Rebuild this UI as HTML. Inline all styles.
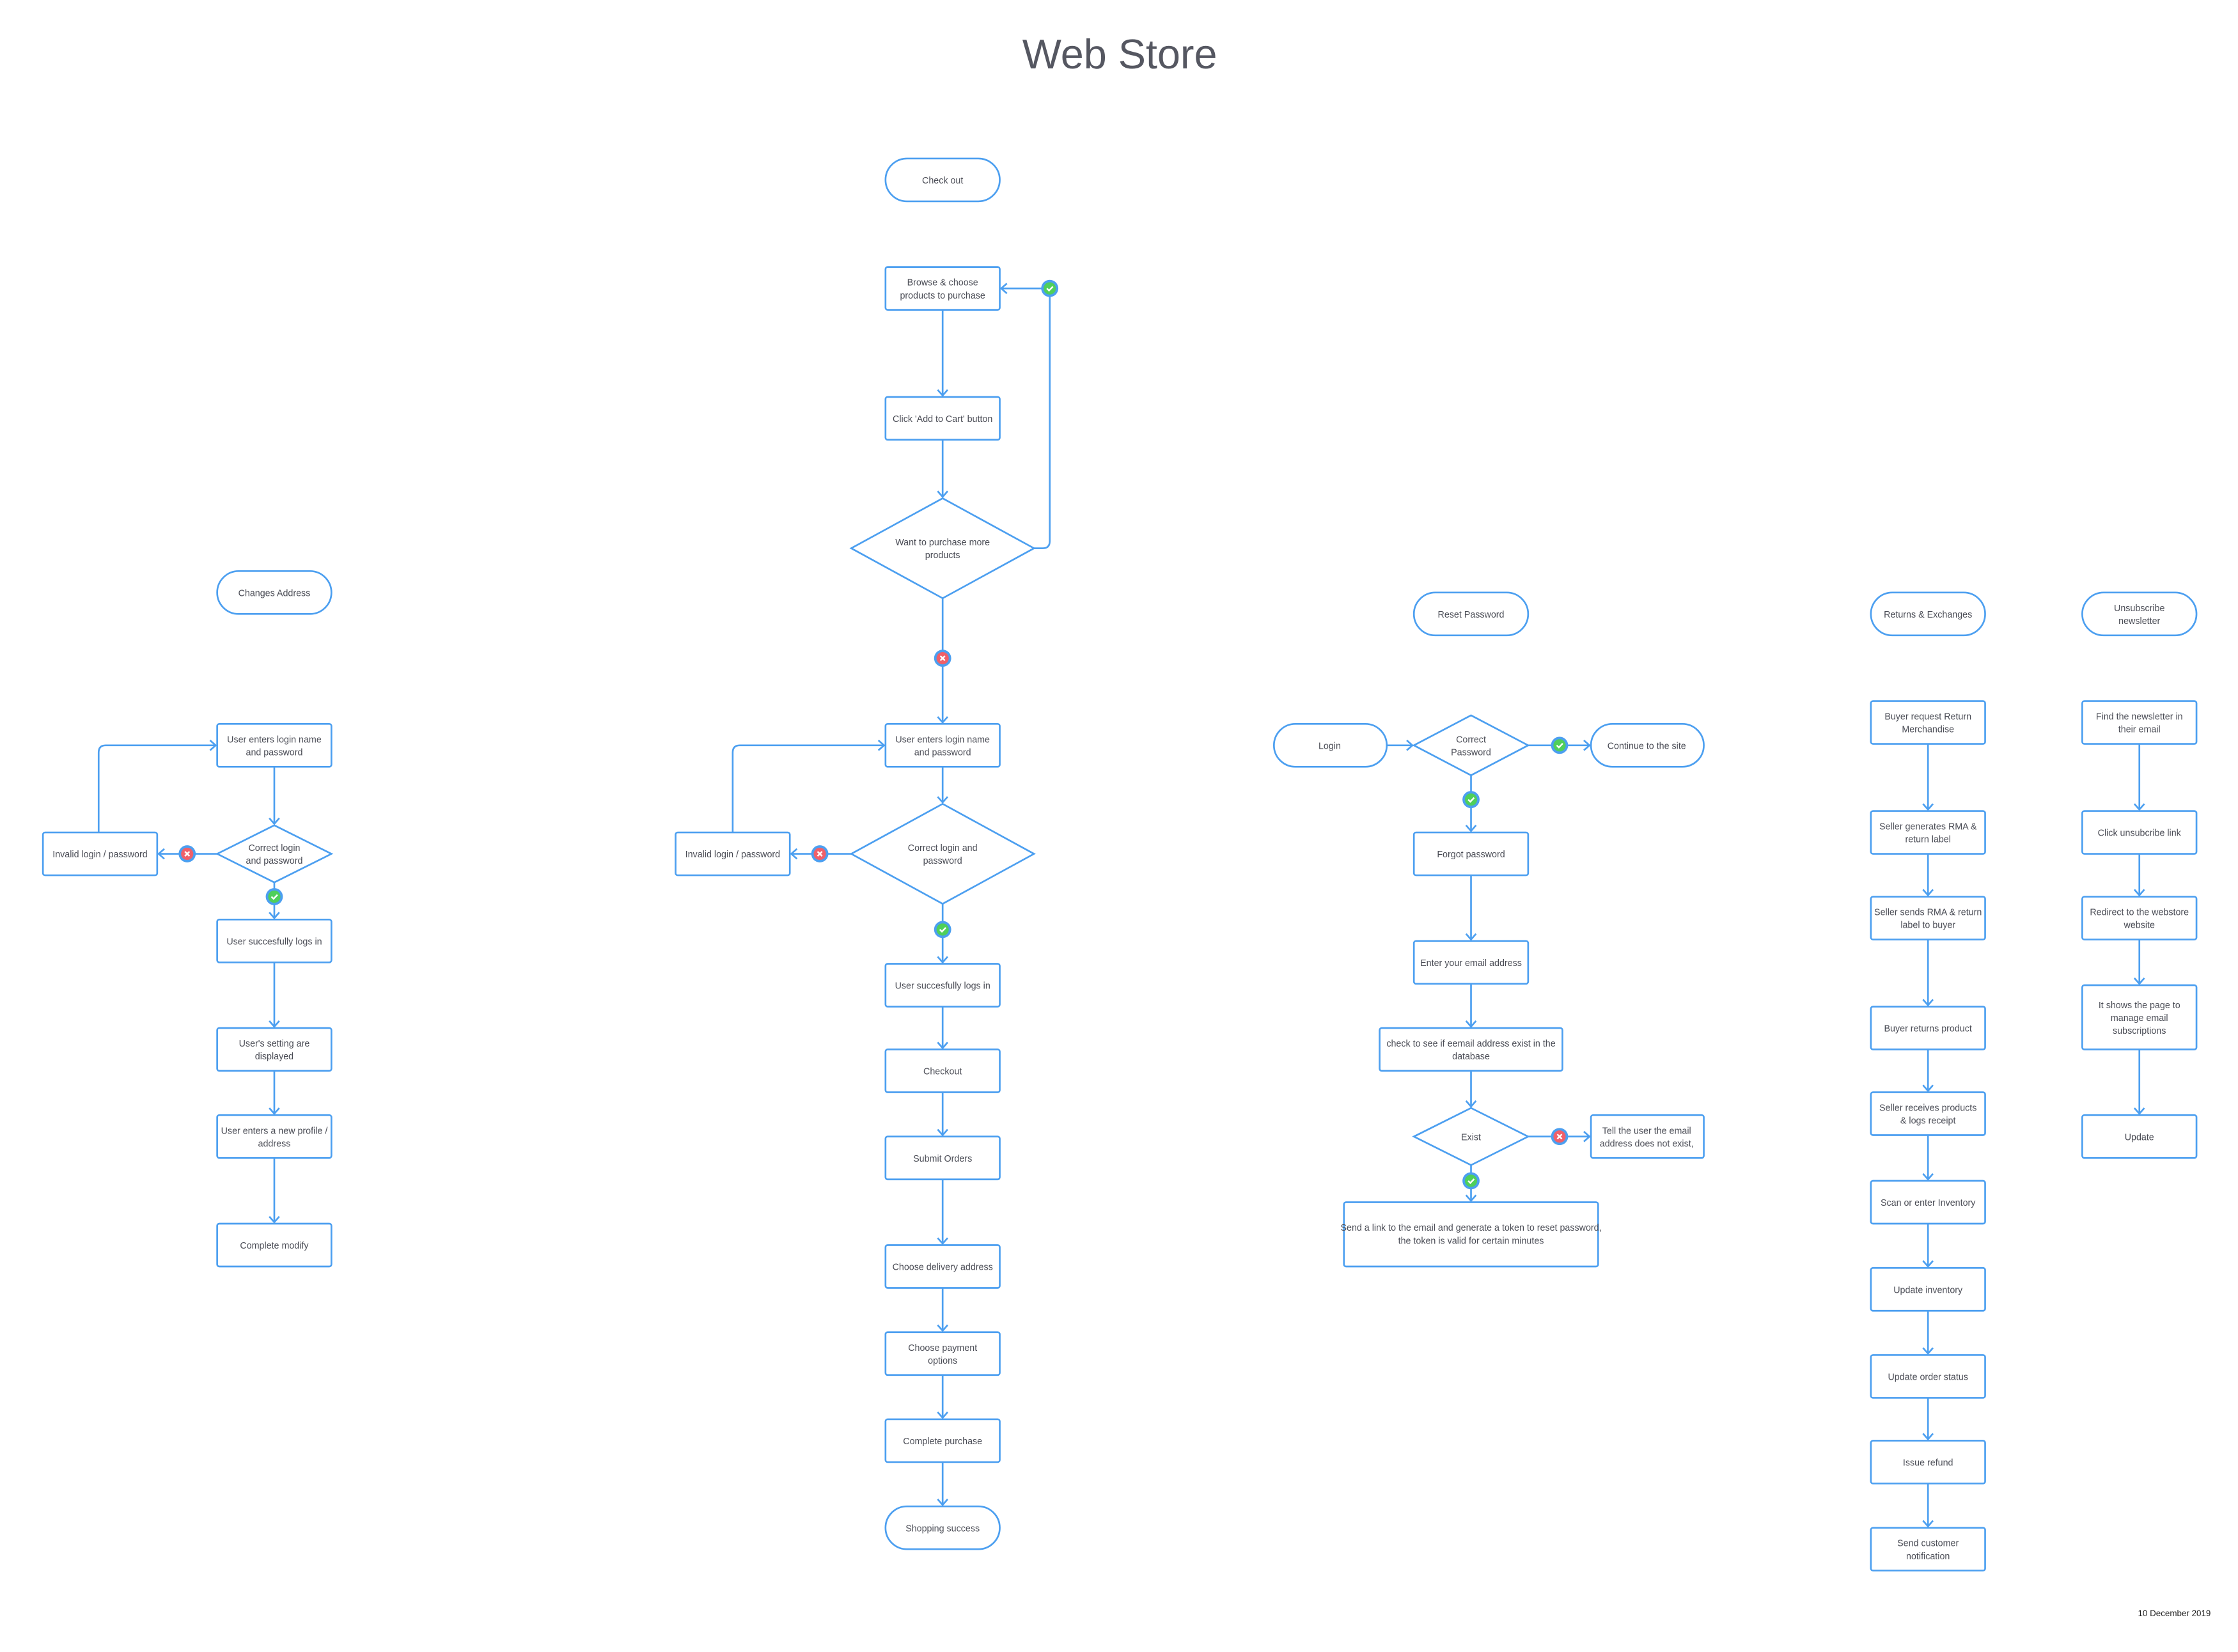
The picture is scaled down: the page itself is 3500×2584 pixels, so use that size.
<!DOCTYPE html>
<html><head><meta charset="utf-8"><style>
html,body{margin:0;padding:0;background:#fff;}
svg{display:block;}
text{font-family:"Liberation Sans",sans-serif;fill:#4a4c55;font-size:6.4px;text-anchor:middle;}
.s{fill:#fff;stroke:#4c9ff0;stroke-width:1.2;}
.l{fill:none;stroke:#4c9ff0;stroke-width:1.2;marker-end:url(#a);}
</style></head><body>
<svg width="3500" height="2584" viewBox="0 0 1567 1157" xmlns="http://www.w3.org/2000/svg">
<defs>
<marker id="a" markerUnits="userSpaceOnUse" markerWidth="12" markerHeight="12" refX="0" refY="0" viewBox="-6 -6 12 12" orient="auto"><path d="M-4,-3.5 L0,0 L-4,3.5" fill="none" stroke="#4c9ff0" stroke-width="1.2"/></marker>
<g id="ok"><circle r="6" fill="#4c9ff0"/><circle r="4.3" fill="#4fcf5a"/><path d="M-2,0 L-0.5,1.5 L2.2,-1.3" stroke="#fff" stroke-width="1.1" fill="none"/></g>
<g id="no"><circle r="6" fill="#4c9ff0"/><circle r="4.3" fill="#f0606a"/><path d="M-1.6,-1.6 L1.6,1.6 M1.6,-1.6 L-1.6,1.6" stroke="#fff" stroke-width="1.1"/></g>
</defs>
<rect width="1567" height="1157" fill="#fff"/>
<text x="784" y="48" style="font-size:29px;fill:#555761">Web Store</text>
<text x="1548" y="1132" style="font-size:6px;text-anchor:end;fill:#222">10 December 2019</text>

<!-- Column 1 -->
<rect class="s" x="152" y="400" width="80" height="30" rx="15"/><text x="192" y="417.5">Changes Address</text>
<rect class="s" x="152" y="507" width="80" height="30" rx="1.5"/><text x="192" y="520">User enters login name</text><text x="192" y="529">and password</text>
<polygon class="s" points="152,598 192,578 232,598 192,618"/><text x="192" y="596">Correct login</text><text x="192" y="605">and password</text>
<rect class="s" x="30" y="583" width="80" height="30" rx="1.5"/><text x="70" y="600.5">Invalid login / password</text>
<rect class="s" x="152" y="644" width="80" height="30" rx="1.5"/><text x="192" y="661.5">User succesfully logs in</text>
<rect class="s" x="152" y="720" width="80" height="30" rx="1.5"/><text x="192" y="733">User's setting are</text><text x="192" y="742">displayed</text>
<rect class="s" x="152" y="781" width="80" height="30" rx="1.5"/><text x="192" y="794">User enters a new profile /</text><text x="192" y="803">address</text>
<rect class="s" x="152" y="857" width="80" height="30" rx="1.5"/><text x="192" y="874.5">Complete modify</text>
<path class="l" d="M192,537 V577"/>
<path class="l" d="M152,598 H111"/>
<path class="l" d="M69,583 V527 Q69,522 74,522 H151"/>
<path class="l" d="M192,618 V643"/>
<path class="l" d="M192,674 V719"/>
<path class="l" d="M192,750 V780"/>
<path class="l" d="M192,811 V856"/>
<use href="#no" x="131" y="598"/><use href="#ok" x="192" y="628"/>

<!-- Column 2 -->
<rect class="s" x="620" y="111" width="80" height="30" rx="15"/><text x="660" y="128.5">Check out</text>
<rect class="s" x="620" y="187" width="80" height="30" rx="1.5"/><text x="660" y="200">Browse &amp; choose</text><text x="660" y="209">products to purchase</text>
<rect class="s" x="620" y="278" width="80" height="30" rx="1.5"/><text x="660" y="295.5">Click 'Add to Cart' button</text>
<polygon class="s" points="596,384 660,349 724,384 660,419"/><text x="660" y="382">Want to purchase more</text><text x="660" y="391">products</text>
<rect class="s" x="620" y="507" width="80" height="30" rx="1.5"/><text x="660" y="520">User enters login name</text><text x="660" y="529">and password</text>
<polygon class="s" points="596,598 660,563 724,598 660,633"/><text x="660" y="596">Correct login and</text><text x="660" y="605">password</text>
<rect class="s" x="473" y="583" width="80" height="30" rx="1.5"/><text x="513" y="600.5">Invalid login / password</text>
<rect class="s" x="620" y="675" width="80" height="30" rx="1.5"/><text x="660" y="692.5">User succesfully logs in</text>
<rect class="s" x="620" y="735" width="80" height="30" rx="1.5"/><text x="660" y="752.5">Checkout</text>
<rect class="s" x="620" y="796" width="80" height="30" rx="1.5"/><text x="660" y="813.5">Submit Orders</text>
<rect class="s" x="620" y="872" width="80" height="30" rx="1.5"/><text x="660" y="889.5">Choose delivery address</text>
<rect class="s" x="620" y="933" width="80" height="30" rx="1.5"/><text x="660" y="946">Choose payment</text><text x="660" y="955">options</text>
<rect class="s" x="620" y="994" width="80" height="30" rx="1.5"/><text x="660" y="1011.5">Complete purchase</text>
<rect class="s" x="620" y="1055" width="80" height="30" rx="15"/><text x="660" y="1072.5">Shopping success</text>
<path class="l" d="M660,217 V277"/>
<path class="l" d="M660,308 V348"/>
<path class="l" d="M724,384 H730 Q735,384 735,379 V202 H701"/>
<path class="l" d="M660,419 V506"/>
<path class="l" d="M660,537 V562"/>
<path class="l" d="M596,598 H554"/>
<path class="l" d="M513,583 V527 Q513,522 518,522 H619"/>
<path class="l" d="M660,633 V674"/>
<path class="l" d="M660,705 V734"/>
<path class="l" d="M660,765 V795"/>
<path class="l" d="M660,826 V871"/>
<path class="l" d="M660,902 V932"/>
<path class="l" d="M660,963 V993"/>
<path class="l" d="M660,1024 V1054"/>
<use href="#ok" x="735" y="202"/><use href="#no" x="660" y="461"/><use href="#no" x="574" y="598"/><use href="#ok" x="660" y="651"/>

<!-- Column 3 -->
<rect class="s" x="990" y="415" width="80" height="30" rx="15"/><text x="1030" y="432.5">Reset Password</text>
<rect class="s" x="892" y="507" width="79" height="30" rx="15"/><text x="931" y="524.5">Login</text>
<polygon class="s" points="990,522 1030,501 1070,522 1030,543"/><text x="1030" y="520">Correct</text><text x="1030" y="529">Password</text>
<rect class="s" x="1114" y="507" width="79" height="30" rx="15"/><text x="1153" y="524.5">Continue to the site</text>
<rect class="s" x="990" y="583" width="80" height="30" rx="1.5"/><text x="1030" y="600.5">Forgot password</text>
<rect class="s" x="990" y="659" width="80" height="30" rx="1.5"/><text x="1030" y="676.5">Enter your email address</text>
<rect class="s" x="966" y="720" width="128" height="30" rx="1.5"/><text x="1030" y="733">check to see if eemail address exist in the</text><text x="1030" y="742">database</text>
<polygon class="s" points="990,796 1030,776 1070,796 1030,816"/><text x="1030" y="798.5">Exist</text>
<rect class="s" x="1114" y="781" width="79" height="30" rx="1.5"/><text x="1153" y="794">Tell the user the email</text><text x="1153" y="803">address does not exist,</text>
<rect class="s" x="941" y="842" width="178" height="45" rx="1.5"/><text x="1030" y="862">Send a link to the email and generate a token to reset password,</text><text x="1030" y="871">the token is valid for certain minutes</text>
<path class="l" d="M971,522 H989"/>
<path class="l" d="M1070,522 H1113"/>
<path class="l" d="M1030,543 V582"/>
<path class="l" d="M1030,613 V658"/>
<path class="l" d="M1030,689 V719"/>
<path class="l" d="M1030,750 V775"/>
<path class="l" d="M1070,796 H1113"/>
<path class="l" d="M1030,816 V841"/>
<use href="#ok" x="1092" y="522"/><use href="#ok" x="1030" y="560"/><use href="#no" x="1092" y="796"/><use href="#ok" x="1030" y="827"/>

<!-- Column 4 -->
<rect class="s" x="1310" y="415" width="80" height="30" rx="15"/><text x="1350" y="432.5">Returns &amp; Exchanges</text>
<rect class="s" x="1310" y="491" width="80" height="30" rx="1.5"/><text x="1350" y="504">Buyer request Return</text><text x="1350" y="513">Merchandise</text>
<rect class="s" x="1310" y="568" width="80" height="30" rx="1.5"/><text x="1350" y="581">Seller generates RMA &amp;</text><text x="1350" y="590">return label</text>
<rect class="s" x="1310" y="628" width="80" height="30" rx="1.5"/><text x="1350" y="641">Seller sends RMA &amp; return</text><text x="1350" y="650">label to buyer</text>
<rect class="s" x="1310" y="705" width="80" height="30" rx="1.5"/><text x="1350" y="722.5">Buyer returns product</text>
<rect class="s" x="1310" y="765" width="80" height="30" rx="1.5"/><text x="1350" y="778">Seller receives products</text><text x="1350" y="787">&amp; logs receipt</text>
<rect class="s" x="1310" y="827" width="80" height="30" rx="1.5"/><text x="1350" y="844.5">Scan or enter Inventory</text>
<rect class="s" x="1310" y="888" width="80" height="30" rx="1.5"/><text x="1350" y="905.5">Update inventory</text>
<rect class="s" x="1310" y="949" width="80" height="30" rx="1.5"/><text x="1350" y="966.5">Update order status</text>
<rect class="s" x="1310" y="1009" width="80" height="30" rx="1.5"/><text x="1350" y="1026.5">Issue refund</text>
<rect class="s" x="1310" y="1070" width="80" height="30" rx="1.5"/><text x="1350" y="1083">Send customer</text><text x="1350" y="1092">notification</text>
<path class="l" d="M1350,521 V567"/>
<path class="l" d="M1350,598 V627"/>
<path class="l" d="M1350,658 V704"/>
<path class="l" d="M1350,735 V764"/>
<path class="l" d="M1350,795 V826"/>
<path class="l" d="M1350,857 V887"/>
<path class="l" d="M1350,918 V948"/>
<path class="l" d="M1350,979 V1008"/>
<path class="l" d="M1350,1039 V1069"/>

<!-- Column 5 -->
<rect class="s" x="1458" y="415" width="80" height="30" rx="15"/><text x="1498" y="428">Unsubscribe</text><text x="1498" y="437">newsletter</text>
<rect class="s" x="1458" y="491" width="80" height="30" rx="1.5"/><text x="1498" y="504">Find the newsletter in</text><text x="1498" y="513">their email</text>
<rect class="s" x="1458" y="568" width="80" height="30" rx="1.5"/><text x="1498" y="585.5">Click unsubcribe link</text>
<rect class="s" x="1458" y="628" width="80" height="30" rx="1.5"/><text x="1498" y="641">Redirect to the webstore</text><text x="1498" y="650">website</text>
<rect class="s" x="1458" y="690" width="80" height="45" rx="1.5"/><text x="1498" y="706">It shows the page to</text><text x="1498" y="715">manage email</text><text x="1498" y="724">subscriptions</text>
<rect class="s" x="1458" y="781" width="80" height="30" rx="1.5"/><text x="1498" y="798.5">Update</text>
<path class="l" d="M1498,521 V567"/>
<path class="l" d="M1498,598 V627"/>
<path class="l" d="M1498,658 V689"/>
<path class="l" d="M1498,735 V780"/>
</svg>
</body></html>
